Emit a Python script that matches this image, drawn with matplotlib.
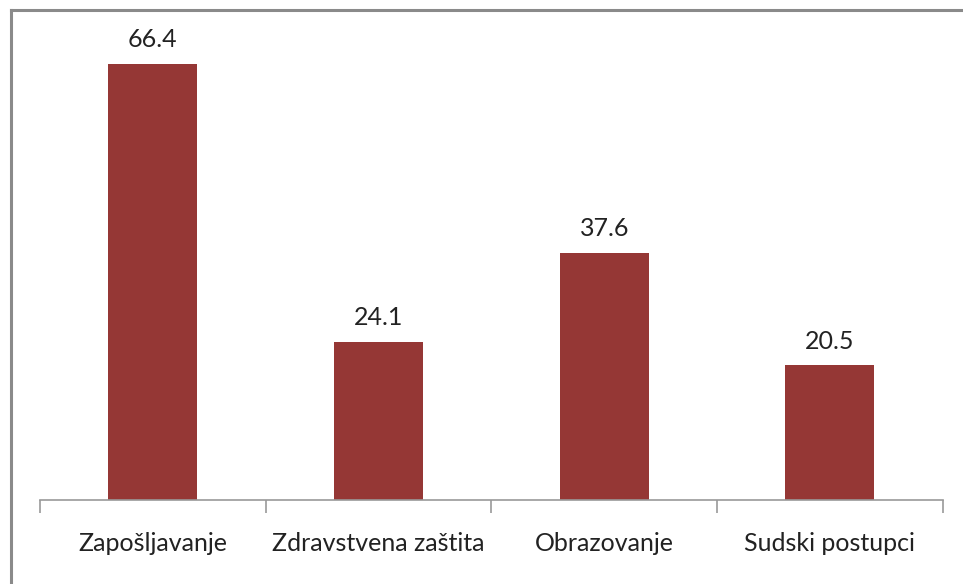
import matplotlib.pyplot as plt
from matplotlib.lines import Line2D
import numpy as np

kategorije = ["Zapošljavanje", "Zdravstvena zaštita", "Obrazovanje", "Sudski postupci"]
vrijednosti = [66.4, 24.1, 37.6, 20.5]

plt.rcParams['font.family'] = ['Lato', 'DejaVu Sans']

fig = plt.figure(figsize=(9.63, 5.84), dpi=100)
ax = fig.add_axes([0.0415, 0.1438, 0.9375, 0.7877])

x = np.arange(len(kategorije))
ax.bar(x, vrijednosti, width=0.394, color="#953735")
for xi, v in zip(x, vrijednosti):
    ax.text(xi, v + 1.9, f"{v:.1f}", ha="center", va="bottom", fontsize=18, color="#222222")

ax.set_xlim(-0.5, len(kategorije) - 0.5)
ax.set_ylim(0, 70)
ax.set_yticks([])
for s in ["top", "right", "left"]:
    ax.spines[s].set_visible(False)
ax.spines["bottom"].set_color("#999999")
ax.spines["bottom"].set_linewidth(1.2)

ax.set_xticks(np.arange(len(kategorije) + 1) - 0.5)
ax.set_xticklabels([])
ax.tick_params(axis="x", length=9, color="#999999", width=1.2)
ax.set_xticks(x, minor=True)
ax.set_xticklabels(kategorije, minor=True, fontsize=18, color="#222222")
ax.tick_params(axis="x", which="minor", length=0, pad=23)

# okvir grafikona
fig.add_artist(Line2D([11 / 963, 1], [1 - 10 / 584] * 2, color="#8a8a8a", lw=2.2))
fig.add_artist(Line2D([11 / 963] * 2, [0, 1 - 10 / 584], color="#8a8a8a", lw=2.2))

fig.savefig("out.png", dpi=100)
